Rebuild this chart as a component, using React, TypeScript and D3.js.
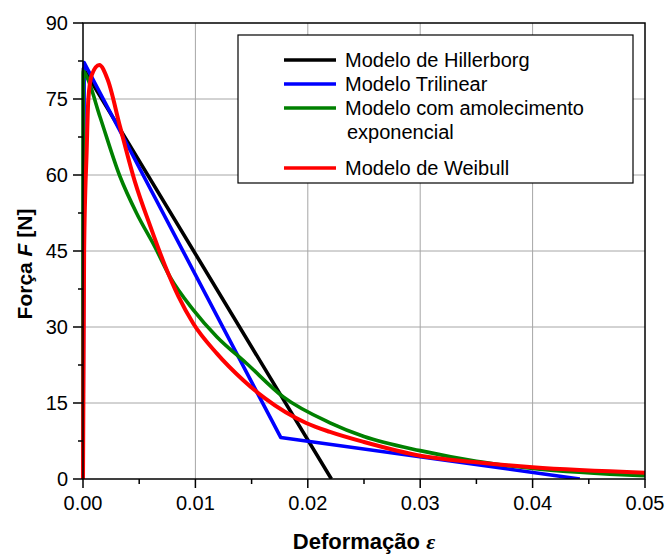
import React, { useEffect, useRef } from "react";
import * as d3 from "d3";

// curves (strain, force)
const hillerborgX = [0, 0.00004, 0.0221];
const hillerborgF = [0, 81, 0];

const trilinearX = [0, 0.0001, 0.01759, 0.0442];
const trilinearF = [0, 82.2, 8.2, 0];

const exponentialX = [0, 0.00002, 0.00033, 0.00151, 0.00329, 0.00478, 0.0064, 0.00774, 0.00981, 0.0119, 0.01456, 0.01782, 0.02197, 0.025, 0.03, 0.035, 0.04, 0.05];
const exponentialF = [0, 80.5, 79.4, 71.5, 59.7, 52.4, 45.8, 39.9, 33.4, 28.1, 22.8, 16.2, 11.1, 8.4, 5.6, 3.5, 2.1, 0.65];

const weibullX = [0, 0.0001, 0.00033, 0.00047, 0.00077, 0.00145, 0.0022, 0.0033, 0.00463, 0.006, 0.0073, 0.0085, 0.00981, 0.0119, 0.01426, 0.0162, 0.0199, 0.02197, 0.025, 0.03, 0.035, 0.04, 0.05];
const weibullF = [0, 45, 65, 74.8, 79.7, 81.7, 78.8, 69.5, 58.6, 49.8, 42.1, 36.0, 30.7, 24.8, 19.5, 15.9, 11.0, 9.3, 7.3, 4.6, 3.3, 2.3, 1.25];

const xTicks = [0, 0.01, 0.02, 0.03, 0.04, 0.05];
const yTicks = [0, 15, 30, 45, 60, 75, 90];

const seriesNames = ["Modelo de Hillerborg", "Modelo Trilinear", "Modelo com amolecimento|exponencial", "Modelo de Weibull"];
const seriesColors = ["#000000", "#0000ff", "#008000", "#ff0000"];

const FONT = "'Liberation Sans', Arial, sans-serif";

export default function App() {
  const ref = useRef<SVGSVGElement>(null);

  useEffect(() => {
    const width = 666;
    const height = 556;
    const margin = { top: 23, right: 21, bottom: 77, left: 83 };
    const innerWidth = width - margin.left - margin.right;
    const innerHeight = height - margin.top - margin.bottom;

    const svg = d3.select(ref.current);
    svg.selectAll("*").remove();
    svg.attr("width", width).attr("height", height).style("font-family", FONT);

    const g = svg.append("g").attr("transform", `translate(${margin.left},${margin.top})`);

    const x = d3.scaleLinear().domain([0, 0.05]).range([0, innerWidth]);
    const y = d3.scaleLinear().domain([0, 90]).range([innerHeight, 0]);

    // grid
    g.append("g").selectAll("line").data(xTicks.slice(1, -1)).join("line")
      .attr("x1", d => x(d)).attr("x2", d => x(d)).attr("y1", 0).attr("y2", innerHeight)
      .attr("stroke", "#a6a6a6").attr("stroke-width", 1);
    g.append("g").selectAll("line").data(yTicks.slice(1, -1)).join("line")
      .attr("y1", d => y(d)).attr("y2", d => y(d)).attr("x1", 0).attr("x2", innerWidth)
      .attr("stroke", "#a6a6a6").attr("stroke-width", 1);

    const line = d3.line<[number, number]>().x(d => x(d[0])).y(d => y(d[1]));
    const curved = d3.line<[number, number]>().x(d => x(d[0])).y(d => y(d[1])).curve(d3.curveMonotoneX);

    const series: [number[], number[], boolean][] = [
      [hillerborgX, hillerborgF, false],
      [trilinearX, trilinearF, false],
      [exponentialX, exponentialF, true],
      [weibullX, weibullF, true],
    ];

    const clip = svg.append("clipPath").attr("id", "plotclip");
    clip.append("rect").attr("x", -3).attr("y", 0).attr("width", innerWidth + 3).attr("height", innerHeight);

    const curves = g.append("g").attr("clip-path", "url(#plotclip)");
    series.forEach(([xs, fs, smooth], i) => {
      const pts = xs.map((v, k) => [v, fs[k]] as [number, number]);
      curves.append("path").attr("d", (smooth ? curved : line)(pts))
        .attr("fill", "none").attr("stroke", seriesColors[i])
        .attr("stroke-width", i === 3 ? 4 : 3.6).attr("stroke-linejoin", "round");
    });

    // frame
    g.append("rect").attr("width", innerWidth).attr("height", innerHeight)
      .attr("fill", "none").attr("stroke", "#000").attr("stroke-width", 1.5);

    // axes
    const xAxis = g.append("g").attr("transform", `translate(0,${innerHeight})`);
    xAxis.selectAll("line.major").data(xTicks).join("line").attr("class", "major")
      .attr("x1", d => x(d)).attr("x2", d => x(d)).attr("y1", 0).attr("y2", 9)
      .attr("stroke", "#000").attr("stroke-width", 1.5);
    xAxis.selectAll("line.minor").data(xTicks.slice(0, -1).map(d => d + 0.005)).join("line").attr("class", "minor")
      .attr("x1", d => x(d)).attr("x2", d => x(d)).attr("y1", 0).attr("y2", 5)
      .attr("stroke", "#000").attr("stroke-width", 1.5);
    xAxis.selectAll("text").data(xTicks).join("text")
      .attr("x", d => x(d)).attr("y", 31).attr("text-anchor", "middle")
      .style("font-size", "20px").text(d => d3.format(".2f")(d));

    const yAxis = g.append("g");
    yAxis.selectAll("line.major").data(yTicks).join("line").attr("class", "major")
      .attr("y1", d => y(d)).attr("y2", d => y(d)).attr("x1", -10).attr("x2", 0)
      .attr("stroke", "#000").attr("stroke-width", 1.5);
    yAxis.selectAll("line.minor").data(yTicks.slice(0, -1).map(d => d + 7.5)).join("line").attr("class", "minor")
      .attr("y1", d => y(d)).attr("y2", d => y(d)).attr("x1", -5).attr("x2", 0)
      .attr("stroke", "#000").attr("stroke-width", 1.5);
    yAxis.selectAll("text").data(yTicks).join("text")
      .attr("x", -15).attr("y", d => y(d) + 7).attr("text-anchor", "end")
      .style("font-size", "20px").text(d => d);

    // axis titles
    const xt = svg.append("text").attr("x", margin.left + innerWidth / 2).attr("y", 549)
      .attr("text-anchor", "middle").style("font-size", "22px").style("font-weight", "bold");
    xt.append("tspan").text("Deformação ");
    xt.append("tspan").style("font-style", "italic").style("font-family", "'Liberation Serif', serif").text("ε");

    const yt = svg.append("text").attr("transform", `translate(32,264) rotate(-90)`)
      .attr("text-anchor", "middle").style("font-size", "21px").style("font-weight", "bold");
    yt.append("tspan").text("Força ");
    yt.append("tspan").style("font-style", "italic").text("F");
    yt.append("tspan").text(" [N]");

    // legend
    const legend = svg.append("g");
    legend.append("rect").attr("x", 238).attr("y", 35).attr("width", 395).attr("height", 148)
      .attr("fill", "#fff").attr("stroke", "#000").attr("stroke-width", 1.2);
    const rowY = [60, 84, 108, 168];
    seriesNames.forEach((name, i) => {
      legend.append("line").attr("x1", 284).attr("x2", 336).attr("y1", rowY[i]).attr("y2", rowY[i])
        .attr("stroke", seriesColors[i]).attr("stroke-width", 3.6);
      const parts = name.split("|");
      parts.forEach((p, k) => {
        legend.append("text").attr("x", k === 0 ? 345 : 347).attr("y", rowY[i] + 7 + k * 24)
          .style("font-size", "20px").text(p);
      });
    });
  }, []);

  return (
    <div>
      <svg ref={ref} style={{ position: "absolute", left: 0, top: 0 }}></svg>
    </div>
  );
}
